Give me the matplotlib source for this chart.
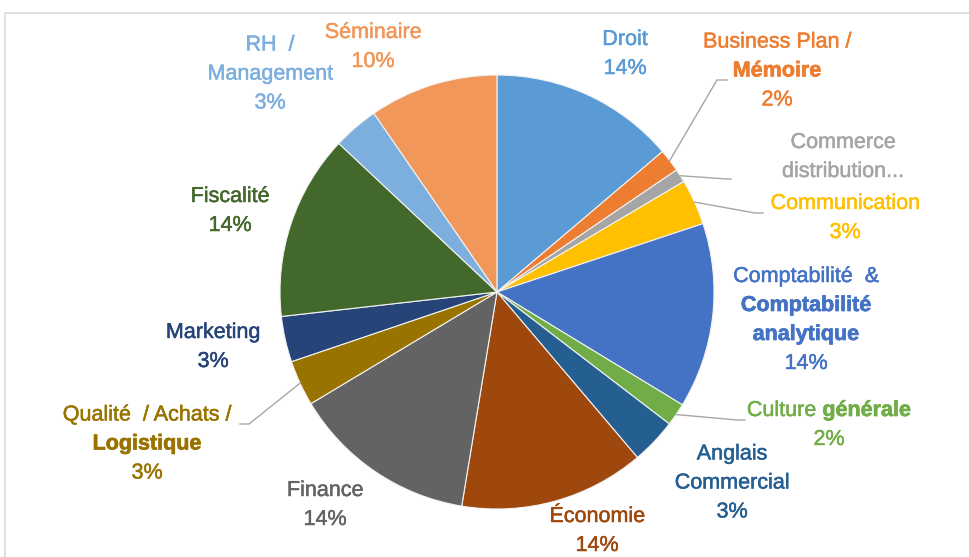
import matplotlib
matplotlib.use("Agg")
import numpy as np
import matplotlib.pyplot as plt
import matplotlib.patheffects as pe
from matplotlib.patches import Rectangle

# --- données (parts en %, sens horaire depuis midi) ---
categories = ["Droit", "Business Plan / Mémoire", "Commerce distribution",
              "Communication", "Comptabilité & Comptabilité analytique",
              "Culture générale", "Anglais Commercial", "Économie", "Finance",
              "Qualité / Achats / Logistique", "Marketing", "Fiscalité",
              "RH / Management", "Séminaire"]
parts = [13.8, 1.7, 1.0, 3.4, 13.8, 1.7, 3.4, 13.8, 13.8, 3.4, 3.4, 13.8, 3.4, 9.6]
couleurs = ["#5B9BD5", "#ED7D31", "#A5A5A5", "#FFC000", "#4472C4", "#70AD47",
            "#255E91", "#9E480E", "#636363", "#997300", "#264478", "#43682B",
            "#7CAFDD", "#F1975A"]

# texte des étiquettes : lignes -> segments (texte, gras ?)
etiquettes = [
    [[("Droit", 0)]],
    [[("Business Plan /", 0)], [("Mémoire", 1)]],
    [[("Commerce", 0)], [("distribution...", 0)]],
    [[("Communication", 0)]],
    [[("Comptabilité  &", 0)], [("Comptabilité", 1)], [("analytique", 1)]],
    [[("Culture ", 0), ("générale", 1)]],
    [[("Anglais", 0)], [("Commercial", 0)]],
    [[("Économie", 0)]],
    [[("Finance", 0)]],
    [[("Qualité  / Achats /", 0)], [("Logistique", 1)]],
    [[("Marketing", 0)]],
    [[("Fiscalité", 0)]],
    [[("RH  /", 0)], [("Management", 0)]],
    [[("Séminaire", 0)]],
]
afficher_pct = [True, True, False, True, True, True, True, True, True, True,
                True, True, True, True]

# mise en page (pixels de l'image, centre du bloc de texte)
W, H = 970, 557
CX, CY, R = 497, 292, 217
pos_etiq = [(625, 54), (777, 71), (843, 157), (845, 218), (806, 320), (829, 425),
            (732, 483), (597, 531), (325, 505), (147, 444), (213, 347),
            (230, 211), (270, 74), (373, 47)]
# coudes des lignes de rappel (pixels)
coudes = {1: [(717, 80), (727, 80)], 2: [(727, 179), (731, 179)],
          3: [(755, 213), (763, 213)], 5: [(737, 420), (745, 420)],
          9: [(249, 424), (240, 424)]}
INTERLIGNE = 29


def px2d(x, y):
    return (x - CX) / R, (CY - y) / R


fig = plt.figure(figsize=(W / 100, H / 100), dpi=100)
ax = fig.add_axes([0, 0, 1, 1])
fig.patches.append(Rectangle((5 / W, -0.05), 1.1, (H - 13) / H + 0.05,
                             transform=fig.transFigure, fill=False,
                             edgecolor="#D9D9D9", linewidth=1.2))

wedges, _ = ax.pie(parts, colors=couleurs, startangle=90, counterclock=False,
                   radius=1, center=(0, 0),
                   wedgeprops=dict(edgecolor="#F2F2F2", linewidth=0.8))

ax.set_xlim(-CX / R, (W - CX) / R)
ax.set_ylim(-(H - CY) / R, CY / R)
ax.set_aspect("auto")
ax.axis("off")

police = ["Liberation Sans", "DejaVu Sans"]
renderer = fig.canvas.get_renderer()


def ligne_mixte(xc, yc, segments, couleur):
    textes = []
    for txt, gras in segments:
        t = ax.text(0, 0, txt, fontsize=15.5, family=police, color=couleur,
                    fontweight="bold" if gras else "normal",
                    ha="left", va="center")
        # trait léger pour épaissir un peu le texte, comme dans l'original
        t.set_path_effects([pe.withStroke(linewidth=0.5 if gras else 0.35,
                                          foreground=couleur)])
        textes.append(t)
    largeurs = [t.get_window_extent(renderer).width for t in textes]
    x = xc - sum(largeurs) / 2
    for t, w in zip(textes, largeurs):
        t.set_position(px2d(x, yc))
        x += w


for i, w in enumerate(wedges):
    lignes = list(etiquettes[i])
    if afficher_pct[i]:
        lignes = lignes + [[(f"{parts[i]:.0f}%", 0)]]
    px, py = pos_etiq[i]
    y0 = py - (len(lignes) - 1) * INTERLIGNE / 2
    for k, lg in enumerate(lignes):
        ligne_mixte(px, y0 + k * INTERLIGNE, lg, couleurs[i])

    if i in coudes:
        ang = np.deg2rad((w.theta1 + w.theta2) / 2)
        pts = [(np.cos(ang), np.sin(ang))] + [px2d(*c) for c in coudes[i]]
        xs, ys = zip(*pts)
        ax.plot(xs, ys, color="#A6A6A6", linewidth=1.0)

fig.savefig("out.png", dpi=100)
